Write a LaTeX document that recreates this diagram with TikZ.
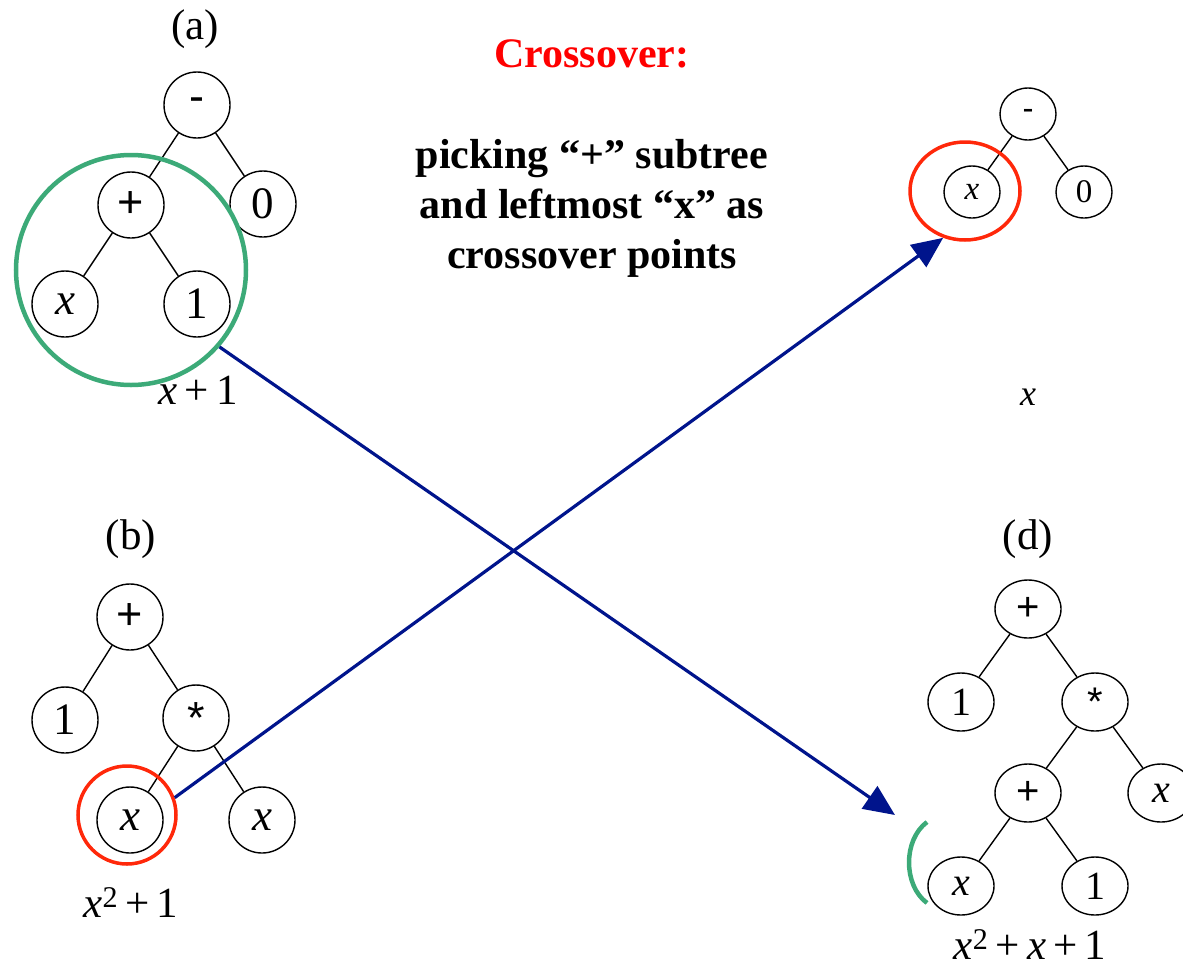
\documentclass[tikz,border=0pt]{standalone}
\usepackage{fontspec}
\setmainfont{Liberation Serif}
\newfontfamily\opfont{Liberation Sans}
\usetikzlibrary{shapes.geometric,arrows.meta}
\definecolor{pickgreen}{RGB}{60,170,120}
\definecolor{pickred}{RGB}{255,40,10}
\definecolor{arrowblue}{RGB}{0,20,140}
\newcommand{\opsym}[1]{{\opfont #1}}

\begin{document}
\begin{tikzpicture}[x=1pt, y=-1pt,
    tnode/.style={circle, draw, line width=1.4pt, minimum size=66pt, inner sep=0pt, font=\fontsize{45}{45}\selectfont},
    cnode/.style={ellipse, draw, line width=1.4pt, minimum width=56pt, minimum height=52pt, inner sep=0pt, font=\fontsize{33}{33}\selectfont},
    dnode/.style={ellipse, draw, line width=1.4pt, minimum width=66pt, minimum height=58pt, inner sep=0pt, font=\fontsize{40}{40}\selectfont},
    tline/.style={line width=1.4pt},
    lbl/.style={inner sep=0pt, font=\fontsize{43}{43}\selectfont},
    xarrow/.style={draw=arrowblue, line width=3.2pt, -{Triangle[length=31pt,width=27pt]}}]
    \useasboundingbox (0,0) rectangle (1183,967);

    % tree (a)
    \node[lbl] (labA) at (195,29) {(a)};
    \node[tnode] (aminus) at (197,105) {\opsym{-}};
    \node[tnode] (aplus) at (131,205) {\opsym{+}};
    \node[tnode] (azero) at (263,204) {0};
    \node[tnode] (ax) at (65,304) {\textit{x}};
    \node[tnode] (aone) at (197,304) {1};
    \draw[tline] (aminus) -- (aplus);
    \draw[tline] (aminus) -- (azero);
    \draw[tline] (aplus) -- (ax);
    \draw[tline] (aplus) -- (aone);
    \node[lbl, anchor=base] (exprA) at (198,404) {\textit{x}\,+\,1};
    \node[circle, draw=pickgreen, line width=4.5pt, minimum size=230pt] (pickA) at (131,270) {};

    % tree (b)
    \node[lbl] (labB) at (131,539) {(b)};
    \node[tnode] (bplus) at (130,617) {\opsym{+}};
    \node[tnode] (bone) at (65,720) {1};
    \node[tnode] (bstar) at (196,718) {\opsym{*}};
    \node[tnode] (bx) at (130,820) {\textit{x}};
    \node[tnode] (bxr) at (262,820) {\textit{x}};
    \draw[tline] (bplus) -- (bone);
    \draw[tline] (bplus) -- (bstar);
    \draw[tline] (bstar) -- (bx);
    \draw[tline] (bstar) -- (bxr);
    \node[lbl, anchor=base] (exprB) at (131,917) {\textit{x}\textsuperscript{2}\,+\,1};
    \node[circle, draw=pickred, line width=3.5pt, minimum size=98pt] (pickB) at (127,815) {};

    % tree (c)
    \node[cnode] (cminus) at (1028,114) {\opsym{-}};
    \node[cnode] (cx) at (972,192) {\textit{x}};
    \node[cnode] (czero) at (1084,192) {0};
    \draw[tline] (cminus) -- (cx);
    \draw[tline] (cminus) -- (czero);
    \node[lbl, anchor=base, font=\fontsize{36}{36}\selectfont] (exprC) at (1028,405) {\textit{x}};
    \node[ellipse, draw=pickred, line width=3.5pt, minimum width=110pt, minimum height=98pt] (pickC) at (965,191) {};

    % tree (d)
    \node[lbl] (labD) at (1028,539) {(d)};
    \node[dnode] (dplus) at (1028,609) {\opsym{+}};
    \node[dnode] (done) at (961,702) {1};
    \node[dnode] (dstar) at (1095,702) {\opsym{*}};
    \node[dnode] (dplusb) at (1028,793) {\opsym{+}};
    \node[dnode] (dxr) at (1161,793) {\textit{x}};
    \node[dnode] (dx) at (961,886) {\textit{x}};
    \node[dnode] (doneb) at (1095,886) {1};
    \draw[tline] (dplus) -- (done);
    \draw[tline] (dplus) -- (dstar);
    \draw[tline] (dstar) -- (dplusb);
    \draw[tline] (dstar) -- (dxr);
    \draw[tline] (dplusb) -- (dx);
    \draw[tline] (dplusb) -- (doneb);
    \node[lbl, anchor=base] (exprD) at (1030,959) {\textit{x}\textsuperscript{2}\,+\,\textit{x}\,+\,1};
    \draw[pickgreen, line width=4.5pt] (927,822) .. controls (903,840) and (903,885) .. (927,903);

    % caption
    \node[anchor=base, text=red, font=\bfseries\fontsize{42}{48}\selectfont] (title) at (592,67) {Crossover:};
    \node[align=center, font=\bfseries\fontsize{42}{50}\selectfont] (desc) at (592,208)
        {picking “+” subtree\\and leftmost “x” as\\crossover points};

    % swap arrows
    \coordinate (tipD) at (895,815);
    \draw[xarrow] (pickA.-41) -- (tipD);
    \draw[xarrow] (pickB.20) -- (pickC.-115);
\end{tikzpicture}
\end{document}
